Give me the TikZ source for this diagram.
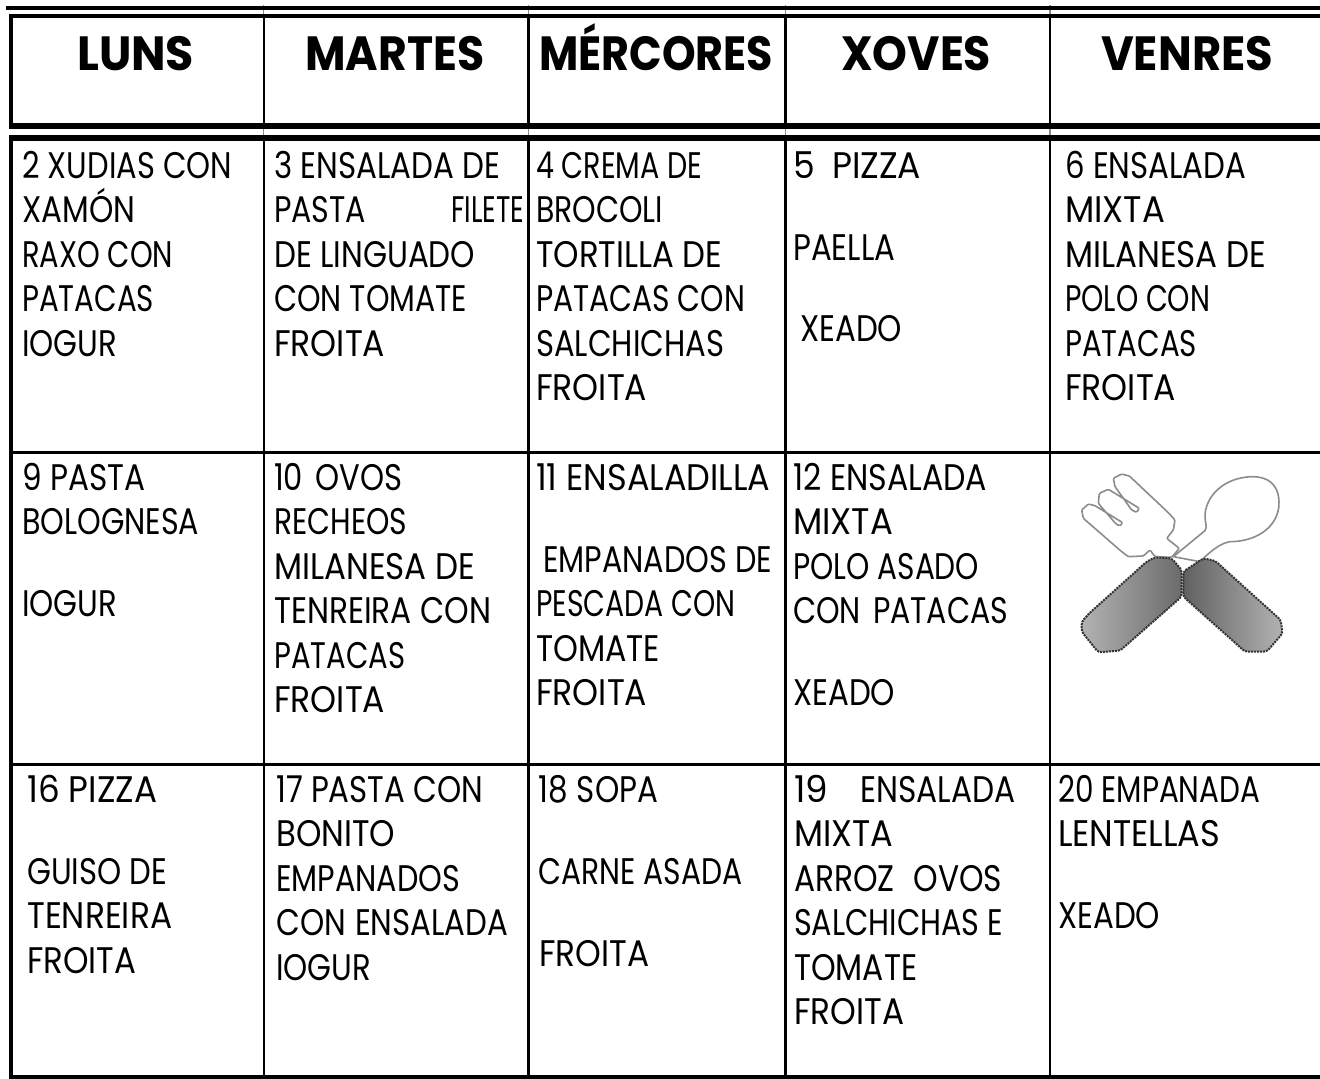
\documentclass[tikz,border=0pt]{standalone}
\usepackage{fontspec}
\setmainfont{Poppins}
\newcounter{lineno}
\newcommand\ml[4]{\stepcounter{lineno}\node[menutext] (m\thelineno) at (#1,#2) {\resizebox{\dimexpr#3pt-#1pt\relax}{\height}{#4}};}
\newcommand\hd[4]{\stepcounter{lineno}\node[headtext] (m\thelineno) at (#1,#2) {\resizebox{\dimexpr#3pt-#1pt\relax}{\height}{#4}};}
\tikzset{
  menutext/.style={anchor=base west,inner sep=0pt,font=\fontsize{37}{37}\selectfont,text=black},
  headtext/.style={anchor=base west,inner sep=0pt,font=\fontsize{48}{48}\selectfont\bfseries,text=black},
  rule/.style={draw=black,line cap=butt},
  handle/.style={draw=black!80,densely dotted,line width=2pt,rounded corners=3pt,shading=axis},
  outlin/.style={draw=black!45,line width=1.6pt,fill=white,line join=round,rounded corners=1.2pt}
}
\begin{document}
\begin{tikzpicture}[x=1pt,y=-1pt]
\useasboundingbox (0,0) rectangle (1320,1079);
\fill[white] (0,0) rectangle (1320,1079);
% grid
\foreach \x in {263.7,528.5,785.5,1050}{
  \draw[draw=black!45,line width=1.5pt] (\x,5) -- (\x,141);
}
\draw[rule,line width=4pt] (6,8) -- (1320,8);
\draw[rule,line width=4pt] (9,16) -- (1320,16);
\draw[rule,line width=5.5pt] (9,126) -- (1320,126);
\draw[rule,line width=6pt] (9,138) -- (1320,138);
\draw[rule,line width=3pt] (9,452) -- (1320,452);
\draw[rule,line width=3pt] (9,764) -- (1320,764);
\draw[rule,line width=4pt] (9,1077) -- (1320,1077);
\draw[rule,line width=3.5pt] (11,14) -- (11,128);
\draw[rule,line width=3.5pt] (11,135) -- (11,1079);
\foreach \x in {263.7,528.5,785.5,1050}{
  \draw[rule,line width=2.4pt] (\x,16) -- (\x,126);
  \draw[rule,line width=2.4pt] (\x,138) -- (\x,1077);
}
% headers
\hd{77}{70}{194}{LUNS}
\hd{305}{70}{484}{MARTES}
\hd{539}{70}{773}{MÉRCORES}
\hd{841}{70}{991}{XOVES}
\hd{1101}{70}{1273}{VENRES}
% row 1
\ml{22}{178}{232}{2 XUDIAS CON}
\ml{22}{222}{135}{XAMÓN}
\ml{22}{267}{173}{RAXO CON}
\ml{22}{311}{154}{PATACAS}
\ml{22}{356}{117}{IOGUR}
\ml{274}{178}{500}{3 ENSALADA DE}
\ml{274}{222}{366}{PASTA}
\ml{451}{222}{524}{FILETE}
\ml{274}{267}{475}{DE LINGUADO}
\ml{274}{311}{467}{CON TOMATE}
\ml{274}{356}{385}{FROITA}
\ml{536}{178}{702}{4 CREMA DE}
\ml{536}{222}{663}{BROCOLI}
\ml{536}{267}{722}{TORTILLA DE}
\ml{536}{311}{745}{PATACAS CON}
\ml{536}{356}{724}{SALCHICHAS}
\ml{536}{400}{647}{FROITA}
\ml{793}{178}{921}{5\hspace{0.5em}PIZZA}
\ml{793}{260}{895}{PAELLA}
\ml{800}{341}{902}{XEADO}
\ml{1065}{178}{1246}{6 ENSALADA}
\ml{1065}{222}{1165}{MIXTA}
\ml{1065}{267}{1266}{MILANESA DE}
\ml{1065}{311}{1210}{POLO CON}
\ml{1065}{356}{1197}{PATACAS}
\ml{1065}{400}{1176}{FROITA}
% row 2
\ml{22}{490}{145}{9 PASTA}
\ml{22}{534}{199}{BOLOGNESA}
\ml{22}{616}{117}{IOGUR}
\ml{274}{490}{402}{10\hspace{0.4em}OVOS}
\ml{274}{534}{407}{RECHEOS}
\ml{274}{579}{475}{MILANESA DE}
\ml{274}{623}{491}{TENREIRA CON}
\ml{274}{668}{405}{PATACAS}
\ml{274}{712}{385}{FROITA}
\ml{536}{490}{770}{11 ENSALADILLA}
\ml{543}{572}{772}{EMPANADOS DE}
\ml{536}{616}{735}{PESCADA CON}
\ml{536}{661}{660}{TOMATE}
\ml{536}{705}{647}{FROITA}
\ml{793}{490}{987}{12 ENSALADA}
\ml{793}{534}{893}{MIXTA}
\ml{793}{579}{979}{POLO ASADO}
\ml{793}{623}{1008}{CON\hspace{0.4em}PATACAS}
\ml{793}{705}{895}{XEADO}
% row 3
\ml{27}{802}{157}{16 PIZZA}
\ml{27}{884}{167}{GUISO DE}
\ml{27}{928}{172}{TENREIRA}
\ml{27}{973}{136}{FROITA}
\ml{276}{802}{483}{17 PASTA CON}
\ml{276}{846}{395}{BONITO}
\ml{276}{891}{460}{EMPANADOS}
\ml{276}{935}{508}{CON\hspace{0.3em}ENSALADA}
\ml{276}{980}{371}{IOGUR}
\ml{538}{802}{658}{18\hspace{0.3em}SOPA}
\ml{538}{884}{742}{CARNE ASADA}
\ml{539}{966}{649}{FROITA}
\ml{794}{802}{828}{19}
\ml{860}{802}{1015}{ENSALADA}
\ml{794}{846}{893}{MIXTA}
\ml{794}{891}{1002}{ARROZ\hspace{0.6em}OVOS}
\ml{794}{935}{1003}{SALCHICHAS E}
\ml{794}{980}{917}{TOMATE}
\ml{794}{1024}{904}{FROITA}
\ml{1058}{802}{1260}{20 EMPANADA}
\ml{1058}{846}{1220}{LENTELLAS}
\ml{1058}{928}{1160}{XEADO}
% cutlery
\begin{scope}[shift={(1040,440)},x=0.3333pt,y=-0.3333pt]
  % spoon
  \draw[outlin,rounded corners=0pt] (400,350) -- (495,272) .. controls (505,262) and (490,240) .. (497,210)
     .. controls (510,150) and (570,110) .. (640,110)
     .. controls (700,112) and (722,150) .. (716,205)
     .. controls (705,270) and (640,305) .. (570,305)
     .. controls (540,310) and (510,335) .. (480,365) -- cycle;
  % fork
  \draw[outlin] (345,350) -- (330,330) -- (310,348) -- (265,350) -- (245,335) -- (130,235)
     -- (125,210) -- (145,192) -- (165,197) -- (248,248) -- (240,258) -- (228,252)
     -- (175,190) -- (178,160) -- (205,148) -- (225,160) -- (298,205) -- (290,217) -- (275,210)
     -- (225,140) -- (220,115) -- (245,102) -- (268,108) -- (385,218) -- (405,240) -- (400,270)
     -- (380,295) -- (418,325) -- (395,352) -- cycle;
  % handles
  \draw[handle,left color=black!30,right color=black!58]
     (125,545) -- (150,518) -- (320,365) -- (345,352) -- (395,355) -- (425,390)
     -- (425,470) -- (240,632) -- (175,637) -- (125,575) -- cycle;
  \draw[handle,left color=black!62,right color=black!30]
     (430,395) -- (490,355) -- (525,362) -- (722,540) -- (728,580) -- (680,635)
     -- (615,635) -- (430,470) -- cycle;
\end{scope}
\end{tikzpicture}
\end{document}
